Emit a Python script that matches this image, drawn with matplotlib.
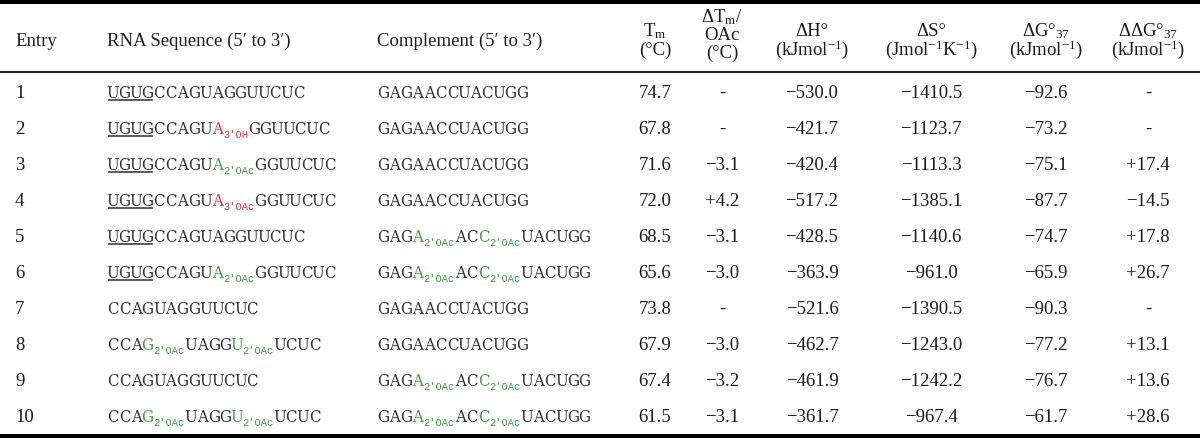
import re
import matplotlib
matplotlib.use("Agg")
import matplotlib.pyplot as plt

# --- table data -------------------------------------------------------------
entries = [1, 2, 3, 4, 5, 6, 7, 8, 9, 10]

# {letter,subscript,colour} marks a modified nucleotide
rna_seq = [
    "UGUGCCAGUAGGUUCUC",
    "UGUGCCAGU{A,3'OH,r}GGUUCUC",
    "UGUGCCAGU{A,2'OAc,g}GGUUCUC",
    "UGUGCCAGU{A,3'OAc,r}GGUUCUC",
    "UGUGCCAGUAGGUUCUC",
    "UGUGCCAGU{A,2'OAc,g}GGUUCUC",
    "CCAGUAGGUUCUC",
    "CCA{G,2'OAc,g}UAGG{U,2'OAc,g}UCUC",
    "CCAGUAGGUUCUC",
    "CCA{G,2'OAc,g}UAGG{U,2'OAc,g}UCUC",
]
underlined = [4, 4, 4, 4, 4, 4, 0, 0, 0, 0]

complement = [
    "GAGAACCUACUGG",
    "GAGAACCUACUGG",
    "GAGAACCUACUGG",
    "GAGAACCUACUGG",
    "GAG{A,2'OAc,g}AC{C,2'OAc,g}UACUGG",
    "GAG{A,2'OAc,g}AC{C,2'OAc,g}UACUGG",
    "GAGAACCUACUGG",
    "GAGAACCUACUGG",
    "GAG{A,2'OAc,g}AC{C,2'OAc,g}UACUGG",
    "GAG{A,2'OAc,g}AC{C,2'OAc,g}UACUGG",
]

tm = [74.7, 67.8, 71.6, 72.0, 68.5, 65.6, 73.8, 67.9, 67.4, 61.5]
dtm = [None, None, -3.1, 4.2, -3.1, -3.0, None, -3.0, -3.2, -3.1]
dh = [-530.0, -421.7, -420.4, -517.2, -428.5, -363.9, -521.6, -462.7, -461.9, -361.7]
ds = [-1410.5, -1123.7, -1113.3, -1385.1, -1140.6, -961.0, -1390.5, -1243.0, -1242.2, -967.4]
dg = [-92.6, -73.2, -75.1, -87.7, -74.7, -65.9, -90.3, -77.2, -76.7, -61.7]
ddg = [None, None, 17.4, -14.5, 17.8, 26.7, None, 13.1, 13.6, 28.6]

num_headers = [
    ["T$_\\mathrm{m}$", "(°C)"],
    ["ΔT$_\\mathrm{m}$/", "OAc", "(°C)"],
    ["ΔH°", "(kJmol$^{-1}$)"],
    ["ΔS°", "(Jmol$^{-1}$K$^{-1}$)"],
    ["ΔG°$_{37}$", "(kJmol$^{-1}$)"],
    ["ΔΔG°$_{37}$", "(kJmol$^{-1}$)"],
]

# --- style --------------------------------------------------------------------
plt.rcParams["mathtext.fontset"] = "custom"
plt.rcParams["mathtext.rm"] = "Liberation Serif"
plt.rcParams["mathtext.it"] = "Liberation Serif:italic"
plt.rcParams["mathtext.bf"] = "Liberation Serif:bold"

SERIF = ["Liberation Serif", "DejaVu Serif"]
SEQ_FONT = "DejaVu Serif"
SUB_FONT = "Liberation Mono"
FS = 13.5
SEQ_FS = 12
SUB_FS = 7.5
PITCH = 11.6          # sequences are set in a fixed-pitch face
TXT = "#1c1c1c"
SEQ_COL = "#2e2e2e"
MOD_COL = {"r": "#e8383a", "g": "#3e9c3e"}

W, H = 1200, 438
fig = plt.figure(figsize=(W / 100, H / 100), dpi=100)
ax = fig.add_axes([0, 0, 1, 1])
ax.set_xlim(0, W)
ax.set_ylim(H, 0)
ax.axis("off")
renderer = fig.canvas.get_renderer()

x_entry, x_rna, x_comp = 15, 107, 377
num_x = [655, 722, 812, 931, 1046, 1148]
row_base0, row_step = 98, 36


def fmt(v, signed=False):
    if v is None:
        return "-"
    s = f"{v:+.1f}" if signed else f"{v:.1f}"
    return s.replace("-", "\u2212")


def right_edge(t):
    bb = t.get_window_extent(renderer=renderer)
    return ax.transData.inverted().transform((bb.x1, bb.y0))[0]


def put_chars(x, y, txt, col):
    for k, ch in enumerate(txt):
        ax.text(x + PITCH * (k + 0.5), y, ch, family=SEQ_FONT, fontsize=SEQ_FS,
                fontstretch="condensed", color=col, ha="center", va="baseline")
    return x + PITCH * len(txt)


def draw_seq(x, y, seq, n_ul):
    if n_ul:
        ax.plot([x + 0.5, x + PITCH * n_ul - 0.5], [y + 1.8, y + 1.8], color=SEQ_COL,
                lw=1.1, solid_capstyle="butt")
    for tok in re.split(r"(\{[^}]*\})", seq):
        if not tok:
            continue
        if tok.startswith("{"):
            letter, sub, col = tok[1:-1].split(",")
            x = put_chars(x, y, letter, MOD_COL[col])
            s = ax.text(x, y + 4, sub, family=SUB_FONT, fontsize=SUB_FS,
                        color=MOD_COL[col], ha="left", va="baseline")
            x = right_edge(s)
        else:
            x = put_chars(x, y, tok, SEQ_COL)


# header
ax.text(x_entry, 46, "Entry", family=SERIF, fontsize=FS, color=TXT, va="baseline")
ax.text(x_rna, 46, "RNA Sequence (5\u2032 to 3\u2032)", family=SERIF, fontsize=FS,
        color=TXT, va="baseline")
ax.text(x_comp, 46, "Complement (5\u2032 to 3\u2032)", family=SERIF, fontsize=FS,
        color=TXT, va="baseline")
for cx, lines in zip(num_x, num_headers):
    bases = [22, 40, 58] if len(lines) == 3 else [36, 55]
    for b, s in zip(bases, lines):
        ax.text(cx, b, s, family=SERIF, fontsize=FS, color=TXT, ha="center", va="baseline")

# body
columns = [
    [fmt(v) for v in tm],
    [fmt(v, True) for v in dtm],
    [fmt(v) for v in dh],
    [fmt(v) for v in ds],
    [fmt(v) for v in dg],
    [fmt(v, True) for v in ddg],
]
for i, e in enumerate(entries):
    yb = row_base0 + row_step * i
    ax.text(x_entry, yb, str(e), family=SERIF, fontsize=FS, color=TXT, va="baseline")
    draw_seq(x_rna, yb, rna_seq[i], underlined[i])
    draw_seq(x_comp, yb, complement[i], 0)
    for cx, col in zip(num_x, columns):
        ax.text(cx, yb, col[i], family=SERIF, fontsize=FS, color=TXT,
                ha="center", va="baseline")

# table rules
ax.axhline(2, color="black", lw=2.9)
ax.axhline(71.5, color="#222222", lw=1.5)
ax.axhline(435.5, color="black", lw=2.9)

fig.savefig("out.png", dpi=100)
